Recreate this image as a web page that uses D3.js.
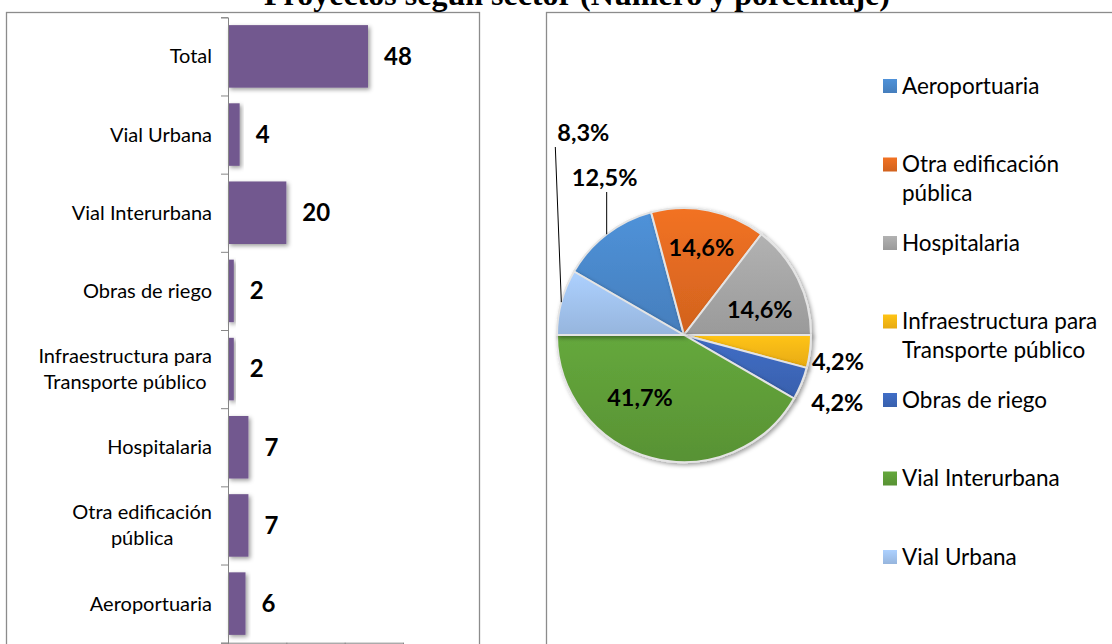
<!DOCTYPE html>
<html>
<head>
<meta charset="utf-8">
<script src="https://cdn.jsdelivr.net/npm/d3@7"></script>
<style>
  body { margin: 0; background: #fff; }
  text { font-family: Lato, "Open Sans", sans-serif; fill: #000; }
</style>
</head>
<body>
<div id="chart"></div>
<script>
// bar chart values (top to bottom)
const categories = ["Total", "Vial Urbana", "Vial Interurbana", "Obras de riego",
  "Infraestructura para\nTransporte público", "Hospitalaria", "Otra edificación\npública", "Aeroportuaria"]
const counts = [48, 4, 20, 2, 2, 7, 7, 6]
const xTicks = [0, 20, 40, 60]

// pie values (clockwise, starting from Aeroportuaria)
const sectors = ["Aeroportuaria", "Otra edificación\npública", "Hospitalaria",
  "Infraestructura para\nTransporte público", "Obras de riego", "Vial Interurbana", "Vial Urbana"]
const sectorCounts = [6, 7, 7, 2, 2, 20, 4]
const sectorColors = ["#4783c3", "#d9661f", "#a0a0a0", "#efb012", "#3a63b3", "#5b9736", "#9bbce5"]

const title = "Proyectos según sector (Número y porcentaje)"

const width = 1112, height = 644

const svg = d3.select("#chart").append("svg")
  .attr("width", width)
  .attr("height", height)

const defs = svg.append("defs")

const shadow = defs.append("filter").attr("id", "shadow")
  .attr("x", "-20%").attr("y", "-20%").attr("width", "150%").attr("height", "150%")
shadow.append("feDropShadow")
  .attr("dx", 2).attr("dy", 2).attr("stdDeviation", 2.2)
  .attr("flood-color", "#000").attr("flood-opacity", 0.38)

// panel frames
svg.append("rect").attr("x", 6.5).attr("y", 12.5).attr("width", 473).attr("height", 700)
  .attr("fill", "none").attr("stroke", "#8c8c8c").attr("stroke-width", 1.3)
svg.append("rect").attr("x", 546.5).attr("y", 12.5).attr("width", 600).attr("height", 700)
  .attr("fill", "none").attr("stroke", "#8c8c8c").attr("stroke-width", 1.3)

svg.append("text")
  .attr("x", 577).attr("y", 5)
  .attr("text-anchor", "middle")
  .style("font-family", "'Liberation Serif', 'Times New Roman', serif")
  .style("font-weight", "bold")
  .style("font-size", "32px")
  .text(title)

// ---------- bar chart ----------
const plotTop = 17.3, plotBottom = 642.7

const xScale = d3.scaleLinear().domain([0, 60]).range([228, 403])
const yScale = d3.scaleBand()
  .domain(categories)
  .range([plotTop, plotBottom])
  .paddingInner(0.2)
  .paddingOuter(0.1)

const bars = svg.append("g")
bars.selectAll("rect")
  .data(categories)
  .join("rect")
  .attr("x", xScale(0))
  .attr("y", d => yScale(d))
  .attr("width", (d, i) => xScale(counts[i]) - xScale(0))
  .attr("height", yScale.bandwidth())
  .attr("fill", "#72598f")
  .attr("filter", "url(#shadow)")

// boundary ticks on the category axis
const boundary = d3.scaleLinear().domain([0, categories.length]).range([plotTop, plotBottom])
svg.append("g")
  .attr("transform", "translate(" + xScale(0) + ",0)")
  .call(d3.axisLeft(boundary).ticks(categories.length).tickSize(7).tickSizeOuter(7).tickFormat(""))
  .call(g => g.selectAll("path,line").attr("stroke", "#868686"))

svg.append("g")
  .attr("transform", "translate(0," + plotBottom + ")")
  .call(d3.axisBottom(xScale).tickValues(xTicks).tickSize(7).tickSizeOuter(0).tickFormat(""))
  .call(g => g.selectAll("path,line").attr("stroke", "#868686"))

// category labels: block right aligned, lines centred inside the block
const catLabels = svg.append("g")
categories.forEach(c => {
  const lines = c.split("\n")
  const cy = yScale(c) + yScale.bandwidth() / 2
  const t = catLabels.append("text")
    .style("font-size", "20px")
    .attr("text-anchor", "middle")
  const spans = lines.map((ln, j) => t.append("tspan")
      .attr("y", cy + (j - (lines.length - 1) / 2) * 26)
      .attr("dy", "0.35em")
      .text(ln))
  const w = d3.max(spans, s => s.node().getComputedTextLength())
  spans.forEach(s => s.attr("x", 212 - w / 2))
})

svg.append("g").selectAll("text")
  .data(categories)
  .join("text")
  .attr("x", (d, i) => xScale(counts[i]) + 16)
  .attr("y", d => yScale(d) + yScale.bandwidth() / 2)
  .attr("dy", "0.35em")
  .style("font-size", "24px")
  .style("font-weight", "bold")
  .text((d, i) => counts[i])

// ---------- pie chart ----------
const cx = 684, cy = 335, r = 127
const total = d3.sum(sectorCounts)
const pct = v => (v / total * 100).toFixed(1).replace(".", ",") + "%"

sectorColors.forEach((c, i) => {
  const g = defs.append("linearGradient").attr("id", "grad" + i)
    .attr("x1", 0).attr("y1", 0).attr("x2", 0).attr("y2", 1)
  g.append("stop").attr("offset", "0%").attr("stop-color", d3.color(c).brighter(0.3))
  g.append("stop").attr("offset", "100%").attr("stop-color", d3.color(c).darker(0.1))
})

const pie = d3.pie().sort(null).value(d => d)
  .startAngle(-Math.PI / 3).endAngle(5 * Math.PI / 3)
const arcs = pie(sectorCounts)
const arc = d3.arc().innerRadius(0).outerRadius(r)

const pieG = svg.append("g").attr("transform", "translate(" + cx + "," + cy + ")")
pieG.selectAll("path")
  .data(arcs)
  .join("path")
  .attr("d", arc)
  .attr("fill", (d, i) => "url(#grad" + i + ")")
  .attr("stroke", "#e4e4e4")
  .attr("stroke-width", 2)
  .attr("filter", "url(#shadow)")

// label placement: inside (nudged centroid), side (right of pie), leader (above, with line)
const labelLayout = [
  { mode: "leader", top: -157, anchor: "middle", tilt: 0 },
  { mode: "inside", k: 0.7, dx: 0, dy: 0 },
  { mode: "inside", k: 0.7, dx: -4, dy: 14 },
  { mode: "side", dx: 2, dy: 10 },
  { mode: "side", dx: 10, dy: 19 },
  { mode: "inside", k: 0.7, dx: -21, dy: -23 },
  { mode: "leader", top: -202, anchor: "start", tilt: -6 }
]

const labelG = pieG.append("g")
arcs.forEach((a, i) => {
  const L = labelLayout[i]
  const mid = (a.startAngle + a.endAngle) / 2
  const ex = Math.sin(mid) * r, ey = -Math.cos(mid) * r
  const t = labelG.append("text")
    .style("font-size", "23.5px")
    .style("font-weight", "bold")
    .attr("dy", "0.35em")
    .text(pct(a.value))
  if (L.mode === "inside") {
    const k = L.k * r
    t.attr("text-anchor", "middle")
      .attr("x", Math.sin(mid) * k + L.dx)
      .attr("y", -Math.cos(mid) * k + L.dy)
  } else if (L.mode === "side") {
    t.attr("text-anchor", "start")
      .attr("x", ex + L.dx)
      .attr("y", ey + L.dy)
  } else {
    const topX = ex + L.tilt
    t.attr("text-anchor", L.anchor)
      .attr("x", L.anchor === "start" ? topX + 2 : topX - 2)
      .attr("y", L.top)
    labelG.append("path")
      .attr("d", d3.line()([[ex, ey], [topX, L.top + 14]]))
      .attr("stroke", "#000").attr("stroke-width", 1).attr("fill", "none")
  }
})

// legend
const legend = svg.append("g").attr("transform", "translate(883,86)")
sectors.forEach((s, i) => {
  const row = legend.append("g").attr("transform", "translate(0," + i * 78.5 + ")")
  row.append("rect").attr("x", 0).attr("y", -7).attr("width", 14).attr("height", 14)
    .attr("fill", "url(#grad" + i + ")")
  const t = row.append("text").style("font-size", "22.5px")
  s.split("\n").forEach((ln, j) => {
    t.append("tspan").attr("x", 19).attr("y", j * 29).attr("dy", "0.35em").text(ln)
  })
})
</script>
</body>
</html>
